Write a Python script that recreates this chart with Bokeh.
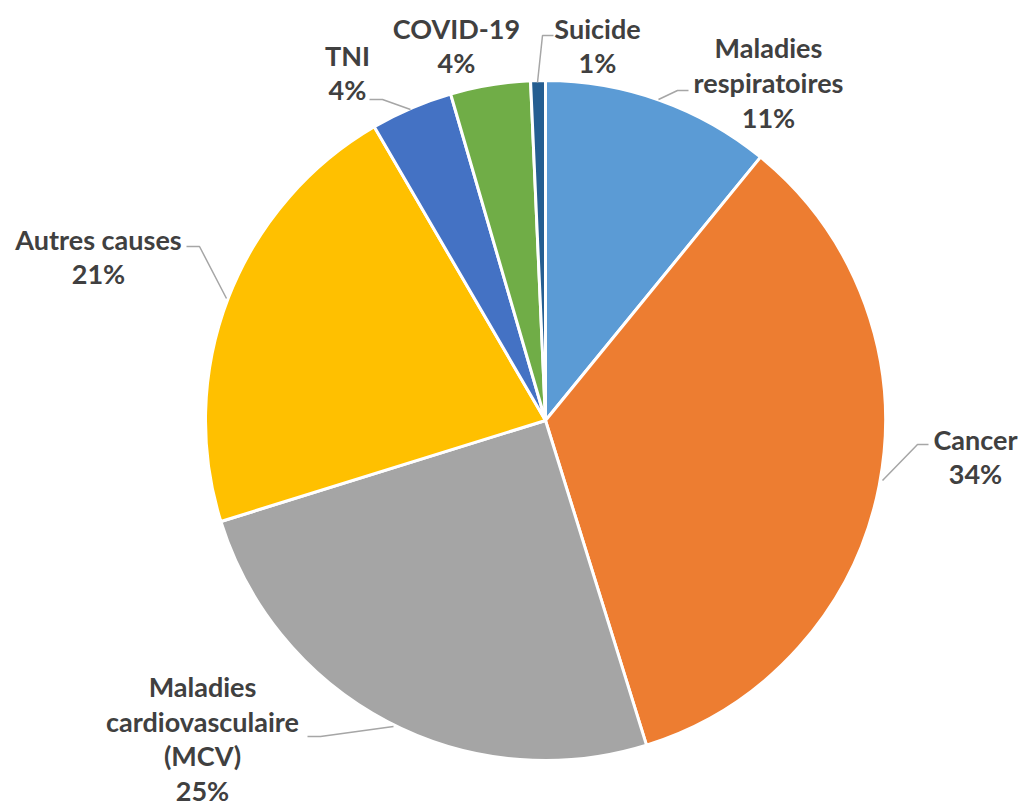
import math
from bokeh.plotting import figure
from bokeh.models import ColumnDataSource, Range1d
from bokeh.core.properties import value
from bokeh.embed import file_html
from bokeh.resources import INLINE

# Causes of death, share in percent (clockwise from 12 o'clock)
causes = ["Maladies\nrespiratoires", "Cancer", "Maladies\ncardiovasculaire\n(MCV)",
          "Autres causes", "TNI", "COVID-19", "Suicide"]
shares = [10.9, 34.3, 25.0, 21.4, 3.9, 3.8, 0.7]
colors = ["#5B9BD5", "#ED7D31", "#A5A5A5", "#FFC000", "#4472C4", "#70AD47", "#255E91"]

W, H = 1018, 810
CX, CY, R = 545, H - 420, 340

total = sum(shares)
starts, ends = [], []
acc = 0.0
for v in shares:
    starts.append(math.pi / 2 - 2 * math.pi * acc / total)
    acc += v
    ends.append(math.pi / 2 - 2 * math.pi * acc / total)

labels = [f"{c}\n{round(100 * v / total)}%" for c, v in zip(causes, shares)]

# label block centres (screen pixels, y measured from top)
label_pos = [(768, 82), (975, 456), (202, 738), (98, 256), (347, 72), (456, 45), (597, 45)]
# leader lines: pie edge -> elbow -> end next to label (screen pixels)
leaders = [
    [(658, 99), (677, 90), (688, 90)],
    [(882, 480), (917, 444), (928, 444)],
    [(393, 726), (320, 736), (307, 736)],
    [(226, 298), (199, 246), (186, 246)],
    [(410, 109), (382, 99), (369, 99)],
    None,
    [(537, 82), (542, 35), (553, 35)],
]

p = figure(width=W, height=H, x_range=Range1d(0, W), y_range=Range1d(0, H),
           output_backend="svg", toolbar_location=None, min_border=0,
           background_fill_color="white", border_fill_color="white")
p.axis.visible = False
p.grid.visible = False
p.outline_line_color = None

src = ColumnDataSource(dict(start=starts, end=ends, color=colors, cause=causes))
p.wedge(x=CX, y=CY, radius=R, start_angle="start", end_angle="end",
        direction="clock", fill_color="color", line_color="white", line_width=3,
        source=src)

xs, ys = [], []
for ld in leaders:
    if ld is None:
        continue
    xs.append([pt[0] for pt in ld])
    ys.append([H - pt[1] for pt in ld])
p.multi_line(xs, ys, line_color="#A6A6A6", line_width=1.5)

lab = ColumnDataSource(dict(x=[q[0] for q in label_pos], y=[H - q[1] for q in label_pos],
                            text=labels))
p.text(x="x", y="y", text="text", source=lab, text_font=value("Lato"),
       text_font_style="bold", text_font_size="27px", text_color="#404040",
       text_align="center", text_baseline="middle", text_line_height=1.05)

open("out.html", "w").write(file_html(p, INLINE))
